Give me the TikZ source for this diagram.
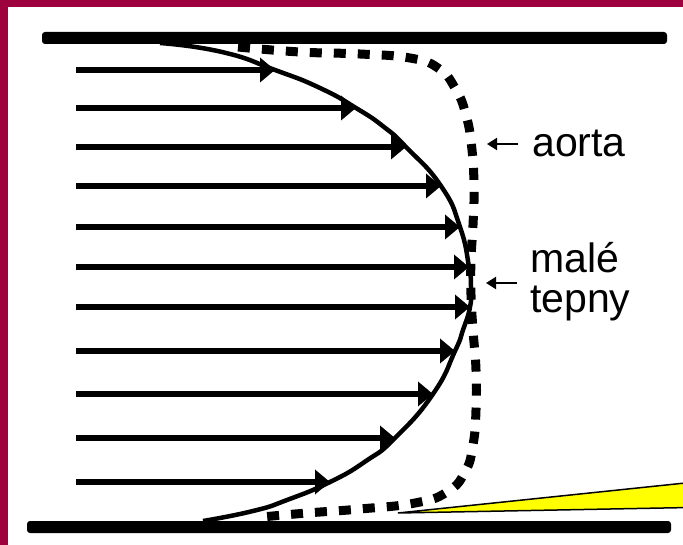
\documentclass[tikz,border=0pt]{standalone}
\usepackage{fontspec}
\setmainfont{Liberation Sans}
\usetikzlibrary{arrows.meta}
\definecolor{crimson}{RGB}{158,2,62}
\definecolor{wedgeyellow}{RGB}{255,255,0}
\tikzset{
  wall/.style={fill=black, rounded corners=3pt},
  flowarrow/.style={line width=6pt, -{Triangle[length=15pt,width=24pt]}},
  profile/.style={line width=4.5pt, line join=round},
  aortaprofile/.style={line width=9pt, dash pattern=on 12pt off 12pt},
  pointer/.style={line width=2pt, -{Triangle[length=10pt,width=12pt]}},
  labeltext/.style={inner sep=0pt, anchor=base west, font=\fontsize{41}{40}\selectfont}
}
\begin{document}
\begin{tikzpicture}[x=1pt,y=-1pt]
\useasboundingbox (0,0) rectangle (683,545);
\clip (0,0) rectangle (683,545);
\fill[white] (0,0) rectangle (683,545);
% frame bands
\fill[crimson] (0,0) rectangle (683,7);
\fill[crimson] (0,0) rectangle (8,545);
% walls
\fill[wall] (42,32) rectangle (667,44);
\fill[wall] (27,521) rectangle (671,533);
% flow arrows
\foreach \y/\t [count=\i] in {70/275,108/356,147/406,186/441,227/460,267/469,307/470,351/455,394/433,438/395,482/330}{
  \coordinate (s\i) at (76,\y);
  \coordinate (t\i) at (\t,\y);
  \draw[flowarrow] (s\i) -- (t\i);
}
% dashed profile (aorta)
\draw[aortaprofile] plot[smooth, tension=0.8] coordinates {
 (238,47) (300,52) (360,54) (410,58) (438,68) (455,88) (466,115) (472,150) (474,190) (473,225) (471,260) (471,295) (473,330) (476,370) (476,410) (473,445) (465,472) (447,492) (415,503) (360,509) (307,513) (262,517)};
% solid profile (small arteries)
\draw[profile] plot[smooth, tension=0.9] coordinates {
 (160,43) (222,52) (275,70) (320,88) (356,108) (384,127) (406,147) (441,186) (460,227) (469,267) (471,287) (470,307) (463,330) (455,351) (433,394) (395,438) (366,461) (330,482) (287,500) (253,511) (203,521)};
% labels
\node[labeltext] (aorta) at (532,157) {aorta};
\node[labeltext] (male) at (530,273) {malé};
\node[labeltext] (tepny) at (530,313) {tepny};
\coordinate (pa) at (487,144);
\coordinate (pb) at (486,283);
\draw[pointer] ([xshift=-14pt]aorta.west |- 0,144) -- (pa);
\draw[pointer] ([xshift=-13pt]male.west |- 0,283) -- (pb);
% yellow wedge
\coordinate (w0) at (398,513);
\coordinate (w1) at (690,482.5);
\coordinate (w2) at (690,507.5);
\filldraw[fill=wedgeyellow, draw=black, line width=1.5pt, line join=miter] (w0) -- (w1) -- (w2) -- cycle;
\end{tikzpicture}
\end{document}
